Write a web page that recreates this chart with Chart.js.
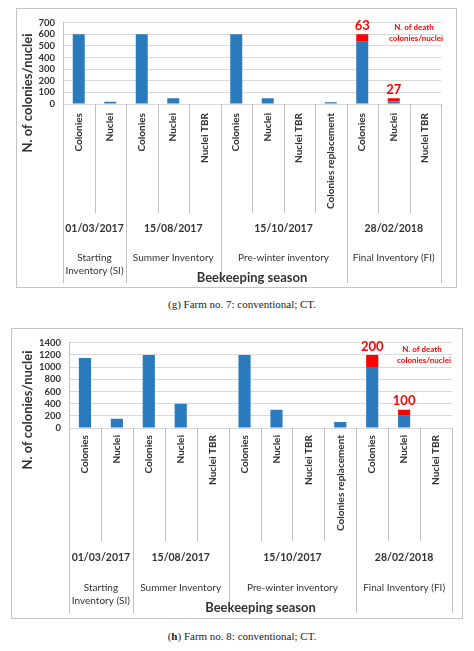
<!DOCTYPE html>
<html>
<head>
<meta charset="utf-8">
<script src="https://cdn.jsdelivr.net/npm/chart.js@4.4.0/dist/chart.umd.min.js"></script>
<style>
  body { margin: 0; background: #fff; width: 474px; height: 651px; position: relative; overflow: hidden; }
  .frame { position: absolute; border: 1px solid #c4c4c4; box-sizing: border-box; }
  .cap { position: absolute; left: 0; width: 484px; text-align: center; font: 11px "Liberation Serif", serif; color: #222; }
</style>
</head>
<body>
<div class="frame" style="left:16px;top:8px;width:441px;height:280px"><canvas id="farm7"></canvas></div>
<div class="cap" style="top:298px">(g) Farm no. 7: conventional; CT.</div>
<div class="frame" style="left:11px;top:328px;width:452px;height:291px"><canvas id="farm8"></canvas></div>
<div class="cap" style="top:630px">(<b>h</b>) Farm no. 8: conventional; CT.</div>

<script>
const categories = ["Colonies", "Nuclei", "Colonies", "Nuclei", "Nuclei TBR", "Colonies", "Nuclei", "Nuclei TBR", "Colonies replacement", "Colonies", "Nuclei", "Nuclei TBR"];
const groupSizes = [2, 3, 4, 3];
const dates = ["01/03/2017", "15/08/2017", "15/10/2017", "28/02/2018"];
const seasons = [["Starting", "Inventory (SI)"], ["Summer Inventory"], ["Pre-winter inventory"], ["Final Inventory (FI)"]];

const farm7Alive = [600, 20, 600, 50, 0, 600, 50, 0, 15, 537, 23, 0];
const farm7Dead = [0, 0, 0, 0, 0, 0, 0, 0, 0, 63, 27, 0];
const farm8Alive = [1150, 150, 1200, 400, 0, 1200, 300, 0, 100, 1000, 200, 0];
const farm8Dead = [0, 0, 0, 0, 0, 0, 0, 0, 0, 200, 100, 0];

const blue = "#2a7bbd";
const red = "#ff0000";
const textGrey = "#333333";
const font = "Lato";

// draws everything under the bars: category labels, dividers, dates, seasons, titles
function seasonPlugin(geo, alive, dead) {
  return {
    id: "season",
    afterDraw(chart) {
      const ctx = chart.ctx, a = chart.chartArea;
      const xs = chart.scales.x, ys = chart.scales.y;
      const n = categories.length, w = (a.right - a.left) / n, b = a.bottom;
      const starts = [0];
      groupSizes.forEach((g, i) => starts.push(starts[i] + g));
      ctx.save();

      // dividers
      ctx.strokeStyle = "#c0c0c0";
      ctx.lineWidth = 1;
      for (let k = 0; k <= n; k++) {
        const x = Math.round(a.left + k * w) + 0.5;
        const len = starts.includes(k) ? geo.groupLine : geo.minorLine;
        ctx.beginPath();
        ctx.moveTo(x, b);
        ctx.lineTo(x, b + len);
        ctx.stroke();
      }

      // category labels, rotated
      ctx.fillStyle = textGrey;
      ctx.font = "bold 10px " + font;
      ctx.textAlign = "right";
      ctx.textBaseline = "middle";
      categories.forEach((c, i) => {
        ctx.save();
        ctx.translate(xs.getPixelForValue(i), b + geo.labelTop);
        ctx.rotate(-Math.PI / 2);
        ctx.fillText(c, 0, 0);
        ctx.restore();
      });

      // dates and season names
      ctx.textAlign = "center";
      for (let g = 0; g < groupSizes.length; g++) {
        const cx = a.left + (starts[g] + starts[g + 1]) / 2 * w;
        ctx.font = "bold 10.5px " + font;
        ctx.fillText(dates[g], cx, b + geo.dateY);
        ctx.font = "10px " + font;
        seasons[g].forEach((s, j) => ctx.fillText(s, cx, b + geo.seasonY + j * 13));
      }
      ctx.font = "bold 13px " + font;
      ctx.fillText("Beekeeping season", (a.left + a.right) / 2, b + geo.xTitleY);

      // y title
      ctx.save();
      ctx.translate(geo.yTitleX, geo.yTitleY);
      ctx.rotate(-Math.PI / 2);
      ctx.font = "bold 13px " + font;
      ctx.fillText("N. of colonies/nuclei", 0, 0);
      ctx.restore();

      // dead counts on top of the stacks
      ctx.fillStyle = red;
      ctx.font = "bold 13px " + font;
      ctx.textBaseline = "bottom";
      dead.forEach((d, i) => {
        if (d > 0) ctx.fillText(String(d), xs.getPixelForValue(i), ys.getPixelForValue(alive[i] + d) - 2);
      });

      // note
      ctx.font = "bold 8px " + font;
      ctx.textBaseline = "middle";
      ctx.fillText("N. of death", a.right - geo.noteDx - 2, a.top + geo.noteDy);
      ctx.fillText("colonies/nuclei", a.right - geo.noteDx, a.top + geo.noteDy + 11);
      ctx.restore();
    }
  };
}

function makeChart(id, alive, dead, yMax, yStep, geo) {
  new Chart(document.getElementById(id), {
    type: "bar",
    data: {
      labels: categories,
      datasets: [
        { data: alive, backgroundColor: blue, barPercentage: 0.38, categoryPercentage: 1 },
        { data: dead, backgroundColor: red, barPercentage: 0.38, categoryPercentage: 1 }
      ]
    },
    options: {
      responsive: true,
      maintainAspectRatio: false,
      animation: false,
      layout: { padding: { left: 0, right: geo.padRight, top: geo.padTop, bottom: geo.padBottom } },
      plugins: { legend: { display: false }, tooltip: { enabled: false } },
      scales: {
        x: { stacked: true, display: false },
        y: {
          stacked: true,
          min: 0,
          max: yMax,
          afterFit: (s) => { s.width = geo.yWidth; },
          ticks: {
            stepSize: yStep, autoSkip: false, padding: 8, color: textGrey,
            font: { family: font, weight: "bold", size: 9.5 },
            callback: (v) => String(v)
          },
          grid: { color: "#d9d9d9", drawTicks: false },
          border: { display: true, color: "#c0c0c0" }
        }
      }
    },
    plugins: [seasonPlugin(geo, alive, dead)]
  });
}

makeChart("farm7", farm7Alive, farm7Dead, 700, 100, {
  yWidth: 46, padRight: 15, padTop: 11, padBottom: 183,
  labelTop: 9, minorLine: 109, groupLine: 179, dateY: 125, seasonY: 154, xTitleY: 174,
  yTitleX: 11, yTitleY: 84, noteDx: 25, noteDy: 5
});

makeChart("farm8", farm8Alive, farm8Dead, 1400, 200, {
  yWidth: 57, padRight: 10, padTop: 11, padBottom: 190,
  labelTop: 7, minorLine: 113, groupLine: 185, dateY: 130, seasonY: 160, xTitleY: 180,
  yTitleX: 16, yTitleY: 81, noteDx: 28, noteDy: 7
});
</script>
</body>
</html>
